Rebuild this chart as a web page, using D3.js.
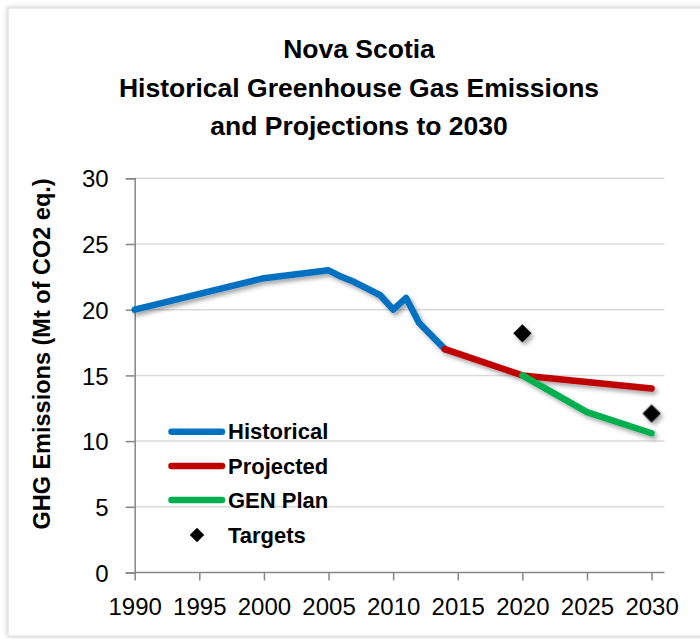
<!DOCTYPE html>
<html>
<head>
<meta charset="utf-8">
<script src="https://cdn.jsdelivr.net/npm/d3@7"></script>
<style>
  html, body { margin: 0; padding: 0; background: #fff; }
  svg { display: block; font-family: "Liberation Sans", Arial, sans-serif; }
</style>
</head>
<body>
<svg id="chart" width="700" height="639"></svg>
<script>
// ---- data ----
const titleLines = ["Nova Scotia", "Historical Greenhouse Gas Emissions", "and Projections to 2030"];
const yAxisTitle = "GHG Emissions (Mt of CO2 eq.)";
const xTicks = [1990, 1995, 2000, 2005, 2010, 2015, 2020, 2025, 2030];
const yTicks = [0, 5, 10, 15, 20, 25, 30];

const historicalYears  = [1990, 2000, 2005, 2006, 2007, 2008, 2009, 2010, 2011, 2012, 2013, 2014];
const historicalValues = [20.0, 22.4, 23.0, 22.5, 22.1, 21.6, 21.1, 20.0, 20.9, 19.0, 18.0, 17.0];
const projectedYears   = [2014, 2020, 2025, 2030];
const projectedValues  = [17.0, 15.0, 14.5, 14.0];
const genPlanYears     = [2020, 2025, 2030];
const genPlanValues    = [15.0, 12.2, 10.6];
const targetYears      = [2020, 2030];
const targetValues     = [18.2, 12.1];

const seriesNames = ["Historical", "Projected", "GEN Plan", "Targets"];
const seriesColors = ["#0070C0", "#C00000", "#00B050", "#000000"];

// ---- layout ----
const svg = d3.select("#chart");
const x = d3.scaleLinear().domain([1990, 2031]).range([134.7, 664.5]);
const y = d3.scaleLinear().domain([0, 30]).range([572.5, 178.3]);

const defs = svg.append("defs");
const sh = defs.append("filter").attr("id", "shadow")
  .attr("x", "-10%").attr("y", "-20%").attr("width", "130%").attr("height", "160%");
sh.append("feDropShadow").attr("dx", 2.5).attr("dy", 3).attr("stdDeviation", 2)
  .attr("flood-color", "#000").attr("flood-opacity", 0.35);
const fs = defs.append("filter").attr("id", "frameShadow")
  .attr("x", "-5%").attr("y", "-5%").attr("width", "110%").attr("height", "110%");
fs.append("feDropShadow").attr("dx", 0).attr("dy", 0).attr("stdDeviation", 2.5)
  .attr("flood-color", "#000").attr("flood-opacity", 0.25);

// chart frame
svg.append("rect").attr("x", 8).attr("y", 8).attr("width", 705).attr("height", 628)
  .attr("fill", "#fff").attr("stroke", "#d9d9d9").attr("stroke-width", 1)
  .attr("filter", "url(#frameShadow)");

// title
const title = svg.append("text").attr("text-anchor", "middle")
  .attr("font-weight", "bold").attr("font-size", 26.5).attr("fill", "#000");
[58, 97, 135].forEach((by, i) => {
  title.append("tspan").attr("x", 359).attr("y", by).text(titleLines[i]);
});

// gridlines
svg.append("g").selectAll("line").data(yTicks.filter(d => d > 0)).join("line")
  .attr("x1", x(1990)).attr("x2", x(2031))
  .attr("y1", d => y(d)).attr("y2", d => y(d))
  .attr("stroke", "#d9d9d9").attr("stroke-width", 1.5);

// y axis
const yAxis = svg.append("g").attr("transform", `translate(${x(1990)},0)`)
  .call(d3.axisLeft(y).tickValues(yTicks).tickSize(9).tickPadding(17).tickFormat(d3.format("d")));
yAxis.select(".domain").attr("stroke", "#868686").attr("stroke-width", 1.5);
yAxis.selectAll(".tick line").attr("stroke", "#868686").attr("stroke-width", 1.5);
yAxis.selectAll(".tick text").attr("font-size", 24).attr("fill", "#000")
  .attr("font-family", "'Liberation Sans', Arial, sans-serif").attr("dy", "0.36em");

// x axis
const xAxis = svg.append("g").attr("transform", `translate(0,${y(0)})`)
  .call(d3.axisBottom(x).tickValues(xTicks).tickSize(8).tickPadding(0).tickFormat(d3.format("d")));
xAxis.select(".domain").attr("stroke", "#868686").attr("stroke-width", 1.5)
  .attr("d", `M${x(1990)},0H${x(2031)}`);
xAxis.selectAll(".tick line").attr("stroke", "#868686").attr("stroke-width", 1.5);
xAxis.selectAll(".tick text").attr("font-size", 24).attr("fill", "#000")
  .attr("font-family", "'Liberation Sans', Arial, sans-serif")
  .attr("y", 615 - y(0)).attr("dy", 0);

// y axis title
svg.append("text").attr("transform", `translate(50,354) rotate(-90)`)
  .attr("text-anchor", "middle").attr("font-weight", "bold").attr("font-size", 23.5)
  .attr("fill", "#000").text(yAxisTitle);

// lines
const line = d3.line().x(d => x(d[0])).y(d => y(d[1]));
const series = [
  d3.zip(historicalYears, historicalValues),
  d3.zip(projectedYears, projectedValues),
  d3.zip(genPlanYears, genPlanValues)
];
const lineG = svg.append("g").attr("filter", "url(#shadow)");
series.forEach((pts, i) => {
  lineG.append("path").attr("d", line(pts)).attr("fill", "none")
    .attr("stroke", seriesColors[i]).attr("stroke-width", 6.5)
    .attr("stroke-linejoin", "round").attr("stroke-linecap", "round");
});

// targets
const diamond = d3.symbol().type(d3.symbolSquare).size(165);
svg.append("g").attr("filter", "url(#shadow)").selectAll("path")
  .data(d3.zip(targetYears, targetValues)).join("path")
  .attr("d", diamond)
  .attr("transform", d => `translate(${x(d[0])},${y(d[1])}) rotate(45)`)
  .attr("fill", seriesColors[3]);

// legend
const legendY = [431.7, 466, 500, 535];
const leg = svg.append("g");
seriesNames.forEach((name, i) => {
  if (i < 3) {
    leg.append("line").attr("x1", 171.5).attr("x2", 222).attr("y1", legendY[i]).attr("y2", legendY[i])
      .attr("stroke", seriesColors[i]).attr("stroke-width", 6.5).attr("stroke-linecap", "round");
  } else {
    leg.append("path").attr("d", d3.symbol().type(d3.symbolSquare).size(105)())
      .attr("transform", `translate(197,${legendY[i]}) rotate(45)`).attr("fill", "#000");
  }
  leg.append("text").attr("x", 228).attr("y", legendY[i]).attr("dy", "0.35em")
    .attr("font-size", 22).attr("font-weight", "bold").attr("fill", "#000").text(name);
});
</script>
</body>
</html>
